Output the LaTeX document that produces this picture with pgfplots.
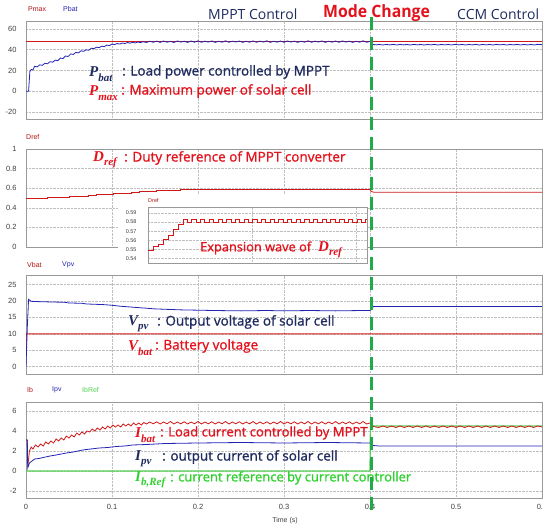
\documentclass[border=0pt]{standalone}
\usepackage{graphicx}
\usepackage{fontspec}
\usepackage{pgfplots}
\pgfplotsset{compat=1.18}
\setmainfont{Liberation Sans}
\newfontfamily\annot{Open Sans}[FakeBold=1.2]
\newfontfamily\annotB{Open Sans}
\newfontfamily\mserif{Liberation Serif}
\definecolor{navy}{HTML}{1F2A5E}
\definecolor{tred}{HTML}{E3121C}
\definecolor{tgreen}{HTML}{2ED22E}
\definecolor{lblue}{HTML}{2323B4}
\definecolor{lred}{HTML}{D01818}
\definecolor{lgreen}{HTML}{55D055}
\definecolor{dgreen}{HTML}{22AA4A}
\definecolor{lab}{HTML}{404040}
\pgfplotsset{
 panel/.style={scale only axis, width=516pt, xmin=0, xmax=0.6,
   xtick={0,0.1,0.2,0.3,0.4,0.5,0.6}, xticklabels={},
   grid=major, major grid style={densely dotted, gray!50, line width=0.6pt},
   axis line style={gray!80, line width=0.8pt}, tick style={draw=none},
   tick label style={font=\fontsize{7.5}{8}\selectfont, text=lab},
   /pgf/number format/assume math mode=true,
   yticklabel style={xshift=-6pt},
   anchor=south west, every axis plot/.append style={line width=0.8pt}},
}
\newcommand{\AnnTxt}[2][13.5]{{\annot\fontsize{#1}{15}\selectfont #2}}
\newcommand{\MathLab}[2]{{\mserif\bfseries\itshape\fontsize{15}{17}\selectfont #1\raisebox{-4.5pt}{\fontsize{11}{12}\selectfont #2}}}
\begin{document}
\begin{tikzpicture}
\path[use as bounding box] (0pt,0pt) rectangle (543pt,-527pt);

% ---------- Panel 1 ----------
\begin{axis}[panel, at={(26pt,-119pt)}, height=98pt, ymin=-26.7, ymax=67.7, ytick={-20,0,20,40,60}]
\addplot[lred] coordinates {(0,47.6)(0.6,47.6)};
\addplot[lblue] coordinates {(0,0)(0.003,0)(0.0045,19)(0.006,21)(0.008,20.5)(0.010,24)(0.013,23.5)(0.016,25.5)(0.019,25)(0.022,27)(0.025,26.5)(0.028,28.5)(0.031,28)(0.034,30)(0.037,29.5)(0.040,32)(0.043,31.5)(0.046,34)(0.049,33.5)(0.052,36)(0.055,35.5)(0.058,37.5)(0.061,37)(0.064,39)(0.067,38.5)(0.070,40)(0.073,39.5)(0.076,41.5)(0.079,41)(0.082,42.5)(0.085,42)(0.088,43.5)(0.091,43)(0.094,44.5)(0.097,44)(0.100,45.5)(0.103,45)(0.106,46)(0.109,45.5)(0.112,46.5)(0.115,46)(0.118,47)(0.121,46.3)(0.124,47.3)(0.127,46.5)(0.130,47.5)(0.133,46.8)(0.136,47.8)(0.140,47.0)(0.144,48.2)(0.148,47.2)(0.152,48.3)(0.156,47.1)(0.160,48.4)(0.164,47.3)(0.168,48.1)(0.172,47.0)(0.176,48.5)(0.180,47.4)(0.184,48.2)(0.188,47.1)(0.192,48.4)(0.196,47.3)(0.200,48.6)(0.204,47.2)(0.208,48.3)(0.212,47.4)(0.216,48.5)(0.220,47.1)(0.224,48.2)(0.228,47.3)(0.232,48.6)(0.236,47.2)(0.240,48.3)(0.244,47.5)(0.248,48.4)(0.252,47.1)(0.256,48.2)(0.260,47.3)(0.264,48.5)(0.268,47.2)(0.272,48.3)(0.276,47.4)(0.280,48.6)(0.284,47.1)(0.288,48.2)(0.292,47.3)(0.296,48.4)(0.300,47.2)(0.304,48.5)(0.308,47.4)(0.312,48.3)(0.316,47.1)(0.320,48.2)(0.324,47.3)(0.328,48.6)(0.332,47.2)(0.336,48.3)(0.340,47.4)(0.344,48.5)(0.348,47.1)(0.352,48.2)(0.356,47.3)(0.360,48.4)(0.364,47.2)(0.368,48.5)(0.372,47.4)(0.376,48.3)(0.380,47.1)(0.384,48.2)(0.388,47.3)(0.392,48.6)(0.396,47.2)(0.400,48.0)(0.403,45.2)(0.407,44.7)(0.411,45.1)(0.415,44.6)(0.419,45.1)(0.423,44.7)(0.427,45.2)(0.431,44.6)(0.435,45.1)(0.439,44.7)(0.443,45.1)(0.447,44.6)(0.451,45.2)(0.455,44.7)(0.459,45.1)(0.463,44.6)(0.467,45.1)(0.471,44.7)(0.475,45.2)(0.479,44.6)(0.483,45.1)(0.487,44.7)(0.491,45.1)(0.495,44.6)(0.499,45.2)(0.503,44.7)(0.507,45.1)(0.511,44.6)(0.515,45.1)(0.519,44.7)(0.523,45.2)(0.527,44.6)(0.531,45.1)(0.535,44.7)(0.539,45.1)(0.543,44.6)(0.547,45.2)(0.551,44.7)(0.555,45.1)(0.559,44.6)(0.563,45.1)(0.567,44.7)(0.571,45.2)(0.575,44.6)(0.579,45.1)(0.583,44.7)(0.587,45.1)(0.591,44.6)(0.595,45.2)(0.6,44.9)};
\end{axis}

% ---------- Panel 2 ----------
\begin{axis}[panel, at={(26pt,-247pt)}, height=98pt, ymin=0, ymax=1, ytick={0,0.2,0.4,0.6,0.8,1}]
\addplot[lred, const plot] coordinates {(0,0.497)(0.012,0.500)(0.025,0.504)(0.038,0.508)(0.05,0.513)(0.062,0.520)(0.072,0.527)(0.082,0.533)(0.092,0.539)(0.102,0.545)(0.112,0.551)(0.122,0.557)(0.132,0.563)(0.142,0.569)(0.152,0.574)(0.162,0.578)(0.172,0.582)(0.180,0.584)(0.4,0.584)};
\addplot[lred] coordinates {(0.4,0.584)(0.402,0.565)(0.405,0.558)(0.6,0.558)};
\end{axis}

% ---------- Panel 3 ----------
\begin{axis}[panel, at={(26pt,-374pt)}, height=99pt, ymin=-2.2, ymax=27.9, ytick={0,5,10,15,20,25}]
\addplot[lred] coordinates {(0,5)(0.0005,10)(0.6,10)};
\addplot[lblue] coordinates {(0,0)(0.0015,12)(0.003,20.5)(0.006,19.9)(0.015,19.8)(0.03,19.7)(0.045,19.6)(0.05,19.4)(0.065,19.3)(0.07,19.1)(0.09,18.9)(0.1,18.7)(0.11,18.4)(0.12,18.2)(0.13,18.0)(0.14,17.8)(0.15,17.6)(0.16,17.5)(0.18,17.3)(0.2,17.2)(0.22,17.1)(0.25,17.0)(0.28,17.1)(0.3,17.0)(0.33,17.1)(0.36,17.0)(0.39,17.1)(0.4,17.1)(0.404,18.3)(0.6,18.3)};
\end{axis}

% ---------- Panel 4 ----------
\begin{axis}[panel, at={(26pt,-498pt)}, height=96pt, ymin=-2.7, ymax=6.9, ytick={-2,0,2,4,6},
  xticklabels={0,0.1,0.2,0.3,0.4,0.5,0.6}, xticklabel style={yshift=-3pt}]
\addplot[lgreen, line width=1.2pt] coordinates {(0,0)(0.4,0)(0.4005,4.5)(0.6,4.5)};
\addplot[lred] coordinates {(0,3.1)(0.0015,3.1)(0.002,0.4)(0.004,2.0)(0.006,2.4)(0.008,2.2)(0.011,2.6)(0.014,2.4)(0.017,2.7)(0.020,2.5)(0.023,2.9)(0.026,2.7)(0.029,3.0)(0.032,2.8)(0.035,3.2)(0.038,3.0)(0.041,3.3)(0.044,3.1)(0.047,3.5)(0.050,3.3)(0.053,3.6)(0.056,3.4)(0.059,3.8)(0.062,3.6)(0.065,3.9)(0.068,3.7)(0.071,4.0)(0.074,3.9)(0.077,4.2)(0.080,4.0)(0.083,4.3)(0.086,4.1)(0.089,4.4)(0.092,4.2)(0.095,4.5)(0.098,4.3)(0.101,4.6)(0.104,4.4)(0.107,4.6)(0.110,4.4)(0.113,4.7)(0.116,4.5)(0.119,4.7)(0.122,4.5)(0.125,4.8)(0.128,4.6)(0.131,4.8)(0.134,4.6)(0.137,4.85)(0.140,4.7)(0.144,4.9)(0.148,4.72)(0.152,4.92)(0.156,4.7)(0.160,4.9)(0.164,4.72)(0.168,4.95)(0.172,4.7)(0.176,4.9)(0.180,4.72)(0.184,4.92)(0.188,4.7)(0.192,4.9)(0.196,4.72)(0.200,4.95)(0.204,4.7)(0.208,4.9)(0.212,4.72)(0.216,4.92)(0.220,4.7)(0.224,4.9)(0.228,4.72)(0.232,4.95)(0.236,4.7)(0.240,4.9)(0.244,4.72)(0.248,4.92)(0.252,4.7)(0.256,4.9)(0.260,4.72)(0.264,4.95)(0.268,4.7)(0.272,4.9)(0.276,4.72)(0.280,4.92)(0.284,4.7)(0.288,4.9)(0.292,4.72)(0.296,4.95)(0.300,4.7)(0.304,4.9)(0.308,4.72)(0.312,4.92)(0.316,4.7)(0.320,4.9)(0.324,4.72)(0.328,4.95)(0.332,4.7)(0.336,4.9)(0.340,4.72)(0.344,4.92)(0.348,4.7)(0.352,4.9)(0.356,4.72)(0.360,4.95)(0.364,4.7)(0.368,4.9)(0.372,4.72)(0.376,4.92)(0.380,4.7)(0.384,4.9)(0.388,4.72)(0.392,4.95)(0.396,4.7)(0.400,4.8)(0.404,4.45)(0.410,4.35)(0.415,4.5)(0.420,4.35)(0.425,4.5)(0.430,4.35)(0.435,4.5)(0.440,4.35)(0.445,4.5)(0.450,4.35)(0.455,4.5)(0.460,4.35)(0.465,4.5)(0.470,4.35)(0.475,4.5)(0.480,4.35)(0.485,4.5)(0.490,4.35)(0.495,4.5)(0.500,4.35)(0.505,4.5)(0.510,4.35)(0.515,4.5)(0.520,4.35)(0.525,4.5)(0.530,4.35)(0.535,4.5)(0.540,4.35)(0.545,4.5)(0.550,4.35)(0.555,4.5)(0.560,4.35)(0.565,4.5)(0.570,4.35)(0.575,4.5)(0.580,4.35)(0.585,4.5)(0.590,4.35)(0.595,4.5)(0.600,4.4)};
\addplot[lblue] coordinates {(0,3.1)(0.0015,3.1)(0.002,0.3)(0.004,0.8)(0.007,1.0)(0.01,1.2)(0.015,1.25)(0.02,1.35)(0.028,1.5)(0.035,1.6)(0.047,1.8)(0.055,1.9)(0.066,2.1)(0.075,2.2)(0.085,2.3)(0.095,2.35)(0.105,2.45)(0.115,2.5)(0.124,2.6)(0.14,2.65)(0.162,2.75)(0.2,2.8)(0.25,2.85)(0.3,2.8)(0.35,2.85)(0.4,2.8)(0.404,2.55)(0.41,2.5)(0.6,2.5)};
\end{axis}

% ---------- Inset ----------
\fill[white] (118pt,-195pt) rectangle (368pt,-266pt);
\begin{axis}[scale only axis, width=219pt, height=56pt, at={(148pt,-263pt)}, anchor=south west,
  xmin=0, xmax=2.1, ymin=0.5353, ymax=0.5965, xtick={1,2}, xticklabels={},
  ytick={0.54,0.55,0.56,0.57,0.58,0.59}, yticklabels={0.54,0.55,0.56,0.57,0.58,0.59},
  grid=major, major grid style={densely dotted, gray!50, line width=0.5pt},
  axis line style={gray!80, line width=0.7pt}, tick style={draw=none},
  tick label style={font=\fontsize{5.5}{6}\selectfont, text=lab},
  /pgf/number format/assume math mode=true, yticklabel style={xshift=-8pt}]
\addplot[lred, const plot, line width=0.7pt] coordinates {(0,0.549)(0.048,0.553)(0.096,0.556)(0.144,0.561)(0.192,0.565)(0.24,0.572)(0.288,0.577)(0.336,0.5835)(0.378,0.580)(0.420,0.5835)(0.461,0.580)(0.503,0.5835)(0.545,0.580)(0.586,0.5835)(0.628,0.580)(0.670,0.5835)(0.711,0.580)(0.753,0.5835)(0.795,0.580)(0.836,0.5835)(0.878,0.580)(0.920,0.5835)(0.961,0.580)(1.003,0.5835)(1.045,0.580)(1.086,0.5835)(1.128,0.580)(1.170,0.5835)(1.211,0.580)(1.253,0.5835)(1.295,0.580)(1.336,0.5835)(1.378,0.580)(1.420,0.5835)(1.461,0.580)(1.503,0.5835)(1.545,0.580)(1.586,0.5835)(1.628,0.580)(1.670,0.5835)(1.711,0.580)(1.753,0.5835)(1.795,0.580)(1.836,0.5835)(1.878,0.580)(1.920,0.5835)(1.961,0.580)(2.003,0.5835)(2.045,0.580)(2.086,0.5835)(2.1,0.5835)};
\end{axis}

% ---------- series labels ----------
\begin{scope}[every node/.style={inner sep=0pt, anchor=west, font=\fontsize{7}{8}\selectfont}]
\node[text=lred!85!black] at (28pt,-9pt) {Pmax};
\node[text=lblue] at (63pt,-9pt) {Pbat};
\node[text=lred!85!black] at (26pt,-137pt) {Dref};
\node[text=lred!85!black] at (27pt,-265pt) {Vbat};
\node[text=lblue] at (62pt,-265pt) {Vpv};
\node[text=lred!85!black] at (27pt,-390pt) {Ib};
\node[text=lblue] at (52pt,-390pt) {Ipv};
\node[text=lgreen] at (82pt,-390pt) {IbRef};
\node[text=lred!85!black, font=\fontsize{5.5}{6}\selectfont] at (148pt,-201pt) {Dref};
\end{scope}
\node[inner sep=0pt, text=lab, font=\fontsize{7}{8}\selectfont] at (285pt,-521pt) {Time (s)};

% ---------- titles ----------
\node[inner sep=0pt, anchor=west, text=navy] at (208pt,-14pt) {\annotB\fontsize{14}{16}\selectfont MPPT Control};
\node[inner sep=0pt, anchor=west, text=tred] at (323pt,-13pt) {\scalebox{0.93}[1]{\annotB\bfseries\fontsize{17}{20}\selectfont Mode Change}};
\node[inner sep=0pt, anchor=west, text=navy] at (457pt,-14pt) {\annotB\fontsize{14}{16}\selectfont CCM Control};

% ---------- annotations ----------
\node[inner sep=0pt, anchor=west, text=navy] at (89pt,-74pt) {\MathLab{P}{bat}};
\node[inner sep=0pt, anchor=west, text=navy] at (122pt,-72pt) {\AnnTxt{: Load power controlled by MPPT}};
\node[inner sep=0pt, anchor=west, text=tred] at (89pt,-93pt) {\MathLab{P}{max}};
\node[inner sep=0pt, anchor=west, text=tred] at (121pt,-91pt) {\AnnTxt{: Maximum power of solar cell}};
\node[inner sep=0pt, anchor=west, text=tred] at (93pt,-160pt) {\MathLab{D}{ref}};
\node[inner sep=0pt, anchor=west, text=tred] at (124pt,-158pt) {\AnnTxt{: Duty reference of MPPT converter}};
\node[inner sep=0pt, anchor=west, text=tred] at (200pt,-248pt) {\AnnTxt[12.8]{Expansion wave of}};
\node[inner sep=0pt, anchor=west, text=tred] at (318pt,-250pt) {\MathLab{D}{ref}};
\node[inner sep=0pt, anchor=west, text=navy] at (128pt,-324pt) {\MathLab{V}{pv}};
\node[inner sep=0pt, anchor=west, text=navy] at (157pt,-322pt) {\AnnTxt{: Output voltage of solar cell}};
\node[inner sep=0pt, anchor=west, text=tred] at (128pt,-348pt) {\MathLab{V}{bat}};
\node[inner sep=0pt, anchor=west, text=tred] at (155pt,-346pt) {\AnnTxt{: Battery voltage}};
\node[inner sep=0pt, anchor=west, text=tred] at (135pt,-435pt) {\MathLab{I}{bat}};
\node[inner sep=0pt, anchor=west, text=tred] at (160pt,-433pt) {\AnnTxt[13.1]{: Load current controlled by MPPT}};
\node[inner sep=0pt, anchor=west, text=navy] at (135pt,-459pt) {\MathLab{I}{pv}};
\node[inner sep=0pt, anchor=west, text=navy] at (162pt,-457pt) {\AnnTxt{: output current of solar cell}};
\node[inner sep=0pt, anchor=west, text=tgreen] at (135pt,-480pt) {\MathLab{I}{b,Ref}};
\node[inner sep=0pt, anchor=west, text=tgreen] at (170pt,-478pt) {\AnnTxt[13]{: current reference by current controller}};

% ---------- mode change line ----------
\draw[dgreen, line width=3pt, dash pattern=on 13pt off 7pt] (371pt,-17pt) -- (371pt,-515pt);
\end{tikzpicture}
\end{document}
